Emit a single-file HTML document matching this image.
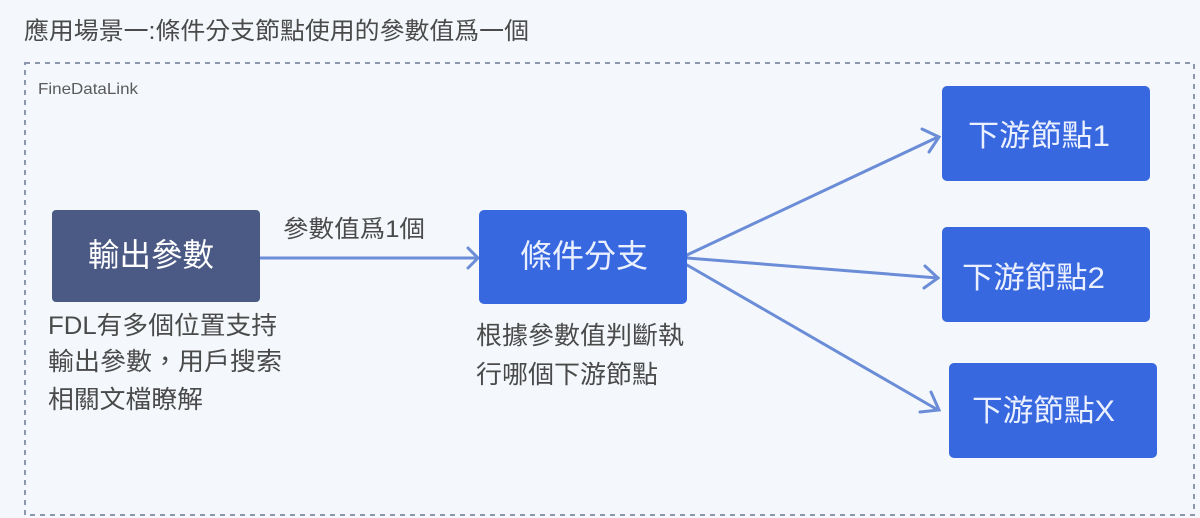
<!DOCTYPE html>
<html><head><meta charset="utf-8"><style>
html,body{margin:0;padding:0;background:#f4f8fc;}
svg{display:block}
text{font-family:"Liberation Sans","Noto Sans CJK TC",sans-serif;}
</style></head><body>
<svg width="1200" height="518" viewBox="0 0 1200 518" xmlns="http://www.w3.org/2000/svg">
<rect width="1200" height="518" fill="#f4f8fc"/>
<text x="24" y="39" font-size="24" fill="#4a4a4a" textLength="505" lengthAdjust="spacingAndGlyphs">應用場景一:條件分支節點使用的參數值爲一個</text>
<rect x="25" y="63" width="1169" height="452" fill="none" stroke="#8c97ad" stroke-width="2" stroke-dasharray="5,5"/>
<text x="38" y="94" font-size="16" fill="#5a5a5a" textLength="100" lengthAdjust="spacingAndGlyphs">FineDataLink</text>
<g stroke="#6b8cd6" stroke-width="3" fill="none" stroke-linecap="round">
<line x1="260" y1="258" x2="477" y2="258"/>
<polyline points="468,248 478,258 468,268"/>
<line x1="687" y1="255" x2="938" y2="137"/>
<polyline points="922,129 939,137 929,152"/>
<line x1="687" y1="258" x2="938" y2="278"/>
<polyline points="925,266 938,278 924,288"/>
<line x1="687" y1="265" x2="938" y2="410"/>
<polyline points="931,392 939,410 920,412"/>
</g>
<rect x="52" y="210" width="208" height="92" rx="4" fill="#4b5a85"/>
<text x="88" y="266" font-size="32" fill="#fff" textLength="126" lengthAdjust="spacingAndGlyphs">輸出參數</text>
<text x="283" y="237" font-size="24" fill="#4a4a4a" textLength="142" lengthAdjust="spacingAndGlyphs">參數值爲1個</text>
<rect x="479" y="210" width="208" height="94" rx="5" fill="#3868e0"/>
<text x="520" y="267" font-size="32" fill="#eaf0ff" textLength="128" lengthAdjust="spacingAndGlyphs">條件分支</text>
<rect x="942" y="86" width="208" height="95" rx="5" fill="#3868e0"/>
<text x="968" y="146" font-size="30" fill="#eaf0ff" textLength="142" lengthAdjust="spacingAndGlyphs">下游節點1</text>
<rect x="942" y="227" width="208" height="95" rx="5" fill="#3868e0"/>
<text x="962" y="288" font-size="30" fill="#eaf0ff" textLength="143" lengthAdjust="spacingAndGlyphs">下游節點2</text>
<rect x="949" y="363" width="208" height="95" rx="5" fill="#3868e0"/>
<text x="972" y="421" font-size="30" fill="#eaf0ff" textLength="143" lengthAdjust="spacingAndGlyphs">下游節點X</text>
<g font-size="25" fill="#4a4a4a">
<text x="48" y="334" textLength="229" lengthAdjust="spacingAndGlyphs">FDL有多個位置支持</text>
<text x="48" y="370" textLength="234" lengthAdjust="spacingAndGlyphs">輸出參數，用戶搜索</text>
<text x="48" y="408" textLength="155" lengthAdjust="spacingAndGlyphs">相關文檔瞭解</text>
<text x="476" y="344" textLength="208" lengthAdjust="spacingAndGlyphs">根據參數值判斷執</text>
<text x="476" y="383" textLength="182" lengthAdjust="spacingAndGlyphs">行哪個下游節點</text>
</g>
</svg>
</body></html>
